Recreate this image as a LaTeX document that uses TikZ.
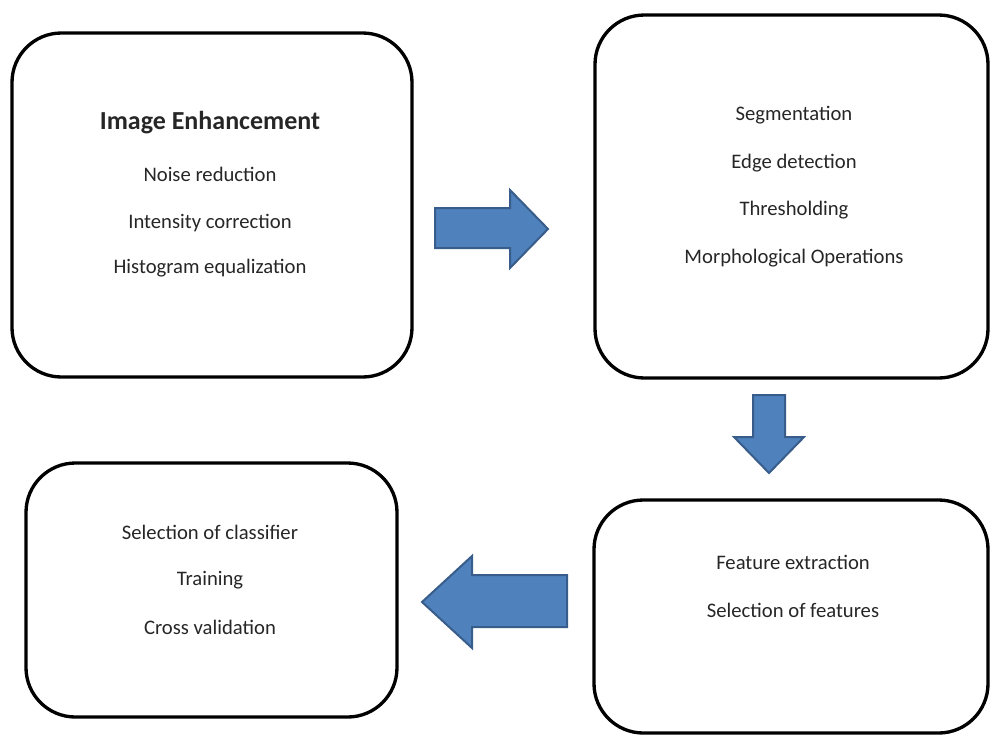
\documentclass[tikz,border=0pt]{standalone}
\usepackage{fontspec}
\setmainfont{Carlito}
\usepackage{tikz}

\definecolor{arrowblue}{HTML}{4F81BD}
\definecolor{arrowedge}{HTML}{385D8A}
\tikzset{
	stagebox/.style={draw=black, line width=2.5pt, rounded corners=37pt},
	blockarrow/.style={fill=arrowblue, draw=arrowedge, line width=1.5pt, line join=miter},
	steptext/.style={font=\fontsize{15.5}{18}\selectfont, text=black!85, inner sep=0pt},
	titletext/.style={font=\fontsize{19.5}{23}\selectfont\bfseries, text=black!85, inner sep=0pt},
}

\begin{document}
\begin{tikzpicture}[x=0.75pt,y=-0.75pt]
				\useasboundingbox (0,0) rectangle (991,736);
				
				% the four stages
				\draw[stagebox] (12,33) rectangle (412,377);
				\draw[stagebox] (595,15) rectangle (988,378);
				\draw[stagebox] (26,463) rectangle (397,717);
				\draw[stagebox] (594,500) rectangle (988,733);
				
				% upper left
				\node[titletext] (enh) at (210,123) {Image Enhancement};
				\foreach \n/\y/\t in
				{noise/174/Noise reduction, intens/223/Intensity correction, histo/268/Histogram equalization}{
					\node[steptext] (\n) at (210,\y) {\t};
				}
				
				% upper right
				\foreach \n/\y/\t in
				{segm/115/Segmentation, edge/163/Edge detection, thresh/210/Thresholding, morph/258/Morphological Operations}{
					\node[steptext] (\n) at (794,\y) {\t};
				}
				
				% lower right
				\foreach \n/\y/\t in
				{featx/562/Feature extraction, featsel/610/Selection of features}{
					\node[steptext] (\n) at (793,\y) {\t};
				}
				
				% lower left
				\foreach \n/\y/\t in
				{clsel/532/Selection of classifier, train/580/Training, xval/627/Cross validation}{
					\node[steptext] (\n) at (210,\y) {\t};
				}
				
				% block arrows
				\filldraw[blockarrow] (435,208) -- (510,208) -- (510,190) -- (548,229)
					-- (510,268) -- (510,248) -- (435,248) -- cycle; % right
				\filldraw[blockarrow] (753,395) -- (785,395) -- (785,437) -- (804,437)
					-- (769,473) -- (734,437) -- (753,437) -- cycle; % down
				\filldraw[blockarrow] (567,575) -- (472,575) -- (472,556) -- (422,602)
					-- (472,648) -- (472,627) -- (567,627) -- cycle; % left
\end{tikzpicture}
\end{document}
